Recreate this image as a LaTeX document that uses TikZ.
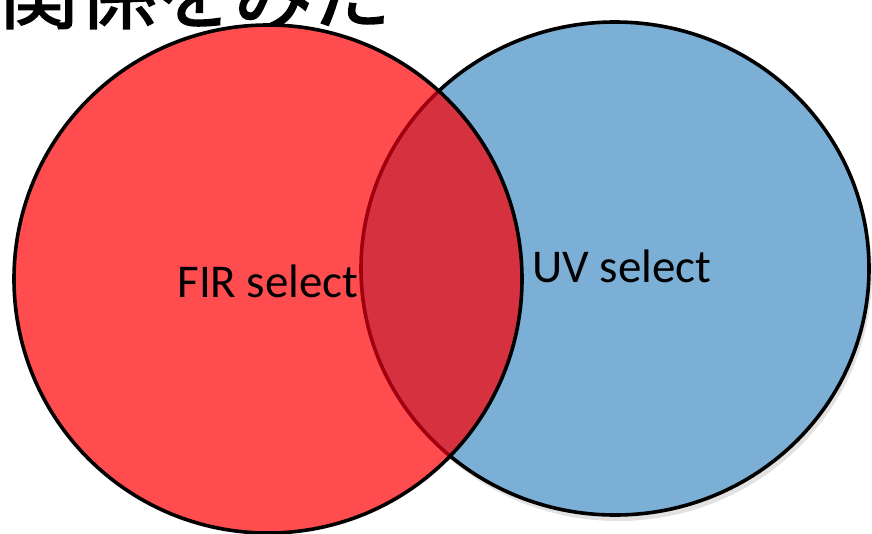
\documentclass[tikz,border=0pt]{standalone}
\usepackage{fontspec}
\setmainfont{Carlito}
\newfontfamily\jpfont[FakeBold=2]{Noto Sans CJK JP}
\definecolor{redfill}{HTML}{FF4D4F}
\definecolor{bluefill}{HTML}{7BAFD6}
\definecolor{overlap}{HTML}{D6313E}
\definecolor{darkarc}{HTML}{A00010}
\definecolor{shadowgrey}{HTML}{E2E2E2}
\begin{document}
\begin{tikzpicture}[x=1pt,y=-1pt,
  border/.style={line width=3.6pt},
  lbl/.style={font=\fontsize{47}{50}\selectfont, text=black, inner sep=0pt}]
\useasboundingbox (0,0) rectangle (872,533);
\clip (0,0) rectangle (872,533);
% title (cut off at top, as in the reference)
\node[anchor=south west, inner sep=0pt, font=\jpfont\fontsize{78}{80}\selectfont] (title) at (0,29) {関係をみた};
% shadow of blue circle
\fill[shadowgrey] (618,274) ellipse [x radius=254, y radius=247];
% blue circle
\path[fill=bluefill] (615,268.5) ellipse [x radius=254, y radius=246.5];
\draw[border] (615,268.5) ellipse [x radius=254, y radius=246.5];
% red circle fill
\fill[redfill] (268,279) circle [radius=254];
% overlap
\begin{scope}
  \clip (268,279) circle [radius=254];
  \fill[overlap] (615,268.5) ellipse [x radius=254, y radius=246.5];
  \draw[line width=3.6pt, darkarc] (615,268.5) ellipse [x radius=254, y radius=246.5];
\end{scope}
\draw[border] (268,279) circle [radius=254];
\node[lbl] (fir) at (268,281) {FIR select};
\node[lbl] (uv) at (622,266) {UV select};
\end{tikzpicture}
\end{document}
